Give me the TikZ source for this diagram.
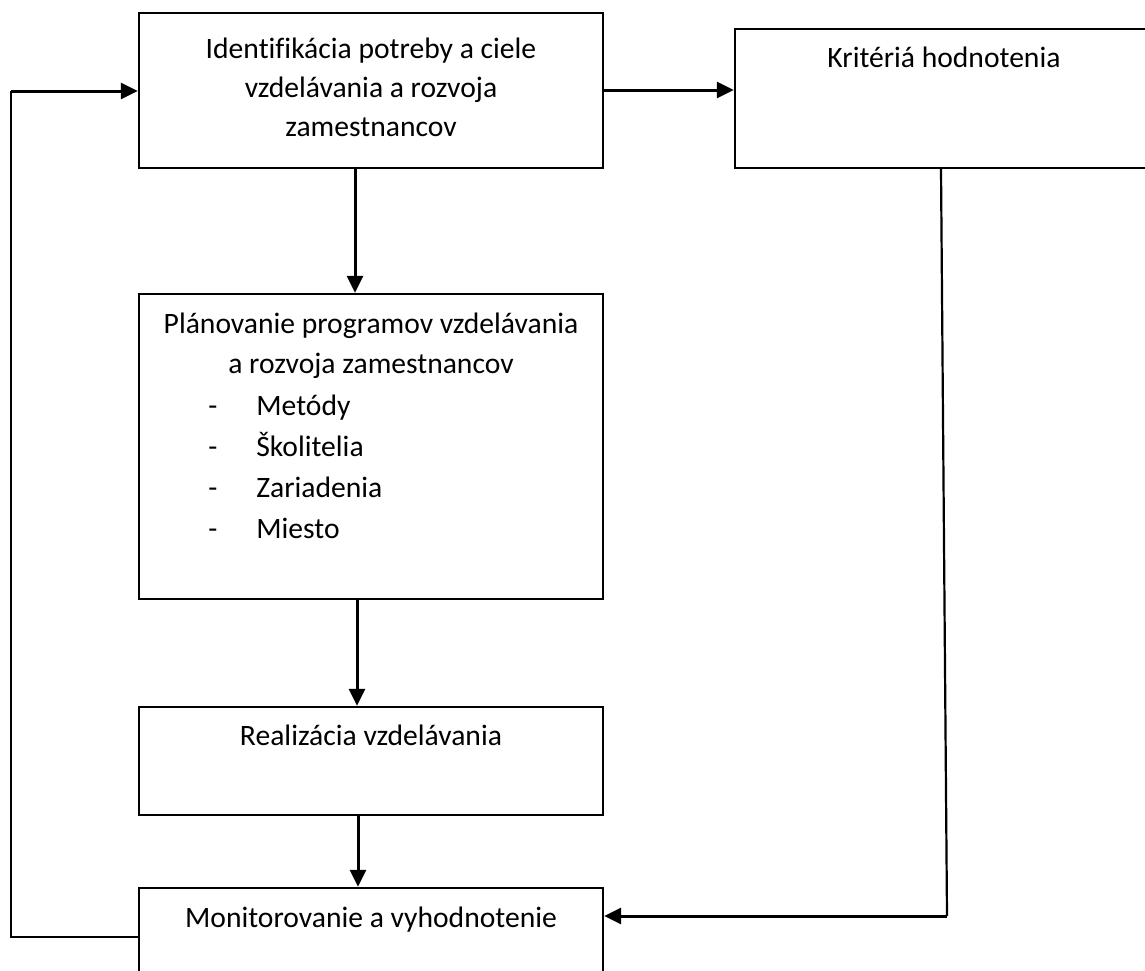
\documentclass[tikz,border=0pt]{standalone}
\usepackage{fontspec}
\setmainfont[Ligatures=CommonOff]{Carlito}
\usetikzlibrary{arrows.meta}
\begin{document}
\begin{tikzpicture}[x=0.5pt,y=-0.5pt,
  box/.style={draw=black,line width=1.2pt,rectangle,inner sep=0pt,minimum width=232pt},
  lbl/.style={anchor=base,inner sep=0pt,font=\fontsize{14.8}{20}\selectfont},
  conn/.style={line width=1.5pt,-{Triangle[length=8.5pt,width=8pt]}},
  thin/.style={line width=1.1pt}]
\useasboundingbox (0,0) rectangle (1145,970);
\clip (0,0) rectangle (1145,970);
\fill[white] (0,0) rectangle (1145,970);
% boxes
\node[box,minimum height=77.5pt] (B1) at (371,90.5) {};
\node[box,minimum width=209pt,minimum height=69.5pt] (B2) at (944,98.5) {};
\node[box,minimum height=152.5pt] (B3) at (371,446.5) {};
\node[box,minimum height=54pt] (B4) at (371,761) {};
\node[box,minimum height=56pt] (B5) at (371,944) {};
% texts
\node[lbl] (t1a) at (371,58) {Identifikácia potreby a ciele};
\node[lbl] (t1b) at (371,97) {vzdelávania a rozvoja};
\node[lbl] (t1c) at (371,136) {zamestnancov};
\node[lbl] (t2) at (944,67) {Kritériá hodnotenia};
\node[lbl] (t3a) at (371,333) {Plánovanie programov vzdelávania};
\node[lbl] (t3b) at (371,373) {a rozvoja zamestnancov};
\node[lbl,anchor=base west] (d1) at (208,415) {-};
\node[lbl,anchor=base west] (i1) at (256,415) {Metódy};
\node[lbl,anchor=base west] (d2) at (208,456) {-};
\node[lbl,anchor=base west] (i2) at (256,456) {Školitelia};
\node[lbl,anchor=base west] (d3) at (208,497) {-};
\node[lbl,anchor=base west] (i3) at (256,497) {Zariadenia};
\node[lbl,anchor=base west] (d4) at (208,538) {-};
\node[lbl,anchor=base west] (i4) at (256,538) {Miesto};
\node[lbl] (t4) at (371,745) {Realizácia vzdelávania};
\node[lbl] (t5) at (371,927) {Monitorovanie a vyhodnotenie};
% helper coordinates
\coordinate (ax1) at (355,0);
\coordinate (ax2) at (357,0);
\coordinate (ax3) at (358,0);
\coordinate (hy) at (0,90);
\coordinate (fl) at (11,937);
\coordinate (ft) at (11,91);
\coordinate (kx) at (941,0);
\coordinate (kb) at (947,916);
% connectors
\draw[conn] (B1.south -| ax1) -- (B3.north -| ax1);
\draw[conn] (B3.south -| ax2) -- (B4.north -| ax2);
\draw[conn] (B4.south -| ax3) -- (B5.north -| ax3);
\draw[conn] (B1.east |- hy) -- (B2.west |- hy);
\draw[thin] (B5.west |- fl) -- (fl) -- (ft);
\draw[conn] (ft) -- (B1.west |- ft);
\draw[thin] (B2.south -| kx) -- (kb);
\draw[conn] (kb) -- (kb -| B5.east);
\end{tikzpicture}
\end{document}
